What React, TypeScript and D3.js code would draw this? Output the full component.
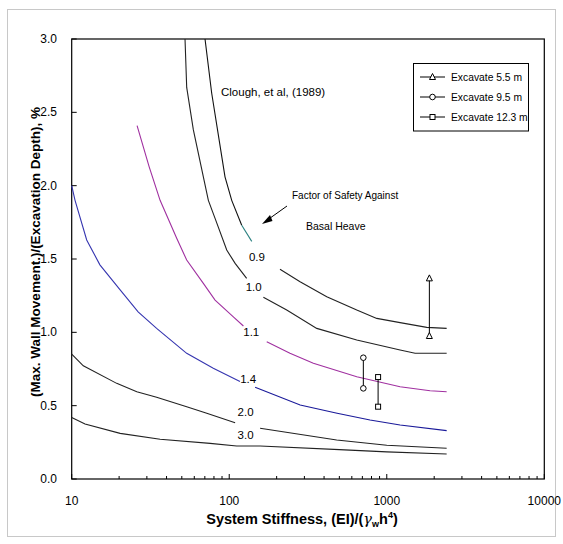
import React from "react";
import * as d3 from "d3";

// ---- data ----
const xTickLabels = [10, 100, 1000, 10000];
const yTickValues = [0, 0.5, 1.0, 1.5, 2.0, 2.5, 3.0];

const c09a: [number, number][] = [[70.2, 3.0], [77.4, 2.63], [94, 2.06], [103.7, 1.9], [120, 1.73]];
const c09tail: [number, number][] = [[120, 1.73], [139, 1.62]];
const c09b: [number, number][] = [[210, 1.43], [281.6, 1.345], [416, 1.243], [645, 1.152], [864, 1.095], [1215, 1.066], [1795, 1.034], [2400, 1.027]];
const c10a: [number, number][] = [[52.4, 3.0], [53.7, 2.67], [59.2, 2.38], [68.5, 2.06], [73.7, 1.9], [81.3, 1.777], [96.4, 1.561], [109, 1.47], [129, 1.368]];
const c10b: [number, number][] = [[164.7, 1.239], [231.7, 1.152], [359.4, 1.027], [645, 0.948], [1215, 0.879], [1513, 0.857], [2400, 0.857]];
const c11a: [number, number][] = [[26, 2.41], [31, 2.13], [36.4, 1.9], [46.4, 1.641], [53.7, 1.493], [68.5, 1.334], [81.3, 1.22], [106.2, 1.106], [123, 1.043]];
const c11b: [number, number][] = [[173, 0.936], [243, 0.857], [342, 0.789], [645, 0.697], [1215, 0.629], [1884, 0.602], [2400, 0.595]];
const c14a: [number, number][] = [[10, 2.0], [10.5, 1.9], [12.45, 1.63], [15.1, 1.46], [20.3, 1.29], [26.4, 1.14], [34.6, 1.027], [53.7, 0.857], [79.2, 0.755], [117, 0.664]];
const c14b: [number, number][] = [[146, 0.625], [282, 0.504], [484, 0.448], [783, 0.402], [1215, 0.368], [2400, 0.33]];
const c20a: [number, number][] = [[10, 0.852], [11.85, 0.772], [19.3, 0.652], [25.9, 0.595], [34.6, 0.557], [53.7, 0.493], [72, 0.448], [109, 0.384]];
const c20b: [number, number][] = [[157, 0.346], [481, 0.266], [1000, 0.23], [2400, 0.21]];
const c30: [number, number][] = [[10, 0.42], [12.15, 0.375], [20.3, 0.311], [36.4, 0.271], [75.6, 0.243], [111.5, 0.225], [157, 0.225], [500, 0.2], [1000, 0.185], [2400, 0.17]];

// curve labels: [text, x, y]
const curveLabels: [string, number, number][] = [
  ["0.9", 150, 1.515],
  ["1.0", 143, 1.31],
  ["1.1", 138, 1.0],
  ["1.4", 132, 0.685],
  ["2.0", 127, 0.46],
  ["3.0", 127, 0.3],
];

// excavation ranges
const excavations = [
  { name: "Excavate 5.5 m", symbol: "triangle", x: 1864, lo: 0.975, hi: 1.368 },
  { name: "Excavate 9.5 m", symbol: "circle", x: 710, lo: 0.618, hi: 0.827 },
  { name: "Excavate 12.3 m", symbol: "square", x: 881, lo: 0.493, hi: 0.695 },
];

const W = 563;
const H = 544;
const L = 71.7, R = 544.3, T = 39, B = 479;

function Marker({ kind, x, y }: { kind: string; x: number; y: number }) {
  if (kind === "triangle") {
    return <path d={`M${x},${y - 3.5}L${x + 3},${y + 2.5}L${x - 3},${y + 2.5}Z`} fill="white" stroke="#000" strokeWidth={1} />;
  }
  if (kind === "circle") {
    return <circle cx={x} cy={y} r={2.8} fill="white" stroke="#000" strokeWidth={1} />;
  }
  return <rect x={x - 2.5} y={y - 2.5} width={5} height={5} fill="white" stroke="#000" strokeWidth={1} />;
}

export default function App() {
  const x = d3.scaleLog().domain([10, 10000]).range([L, R]);
  const y = d3.scaleLinear().domain([0, 3]).range([B, T]);
  const line = d3.line<[number, number]>().x((d) => x(d[0])).y((d) => y(d[1]));
  const minor = x.ticks();
  const font = "Liberation Sans, Arial, sans-serif";

  const curves: { d: [number, number][]; c: string }[] = [
    { d: c09a, c: "#111" },
    { d: c09tail, c: "#2a8080" },
    { d: c09b, c: "#222" },
    { d: c10a, c: "#222" },
    { d: c10b, c: "#222" },
    { d: c11a, c: "#a030a0" },
    { d: c11b, c: "#a030a0" },
    { d: c14a, c: "#3535b0" },
    { d: c14b, c: "#1a1a9a" },
    { d: c20a, c: "#222" },
    { d: c20b, c: "#222" },
    { d: c30, c: "#222" },
  ];

  return (
    <svg width={W} height={H} style={{ position: "absolute", left: 0, top: 0, background: "white" }} fontFamily={font}>
      <rect x={7.5} y={9.5} width={548} height={527} fill="white" stroke="#c8c8c8" strokeWidth={1} />
      {/* plot frame */}
      <rect x={L} y={T} width={R - L} height={B - T} fill="none" stroke="#000" strokeWidth={1.2} />
      {/* x ticks */}
      {minor.map((v, i) => {
        const major = Math.abs(Math.log10(v) - Math.round(Math.log10(v))) < 1e-9;
        return <line key={"xt" + i} x1={x(v)} x2={x(v)} y1={B} y2={B - (major ? 5 : 3)} stroke="#000" strokeWidth={1} />;
      })}
      {xTickLabels.map((v) => (
        <text key={"xl" + v} x={x(v)} y={505} textAnchor="middle" fontSize={12} fill="#000">{v}</text>
      ))}
      {/* y ticks */}
      {yTickValues.map((v) => (
        <g key={"yt" + v}>
          <line x1={L} x2={L + 5} y1={y(v)} y2={y(v)} stroke="#000" strokeWidth={1} />
          <text x={57} y={y(v) + 4} textAnchor="end" fontSize={12} fill="#000">{v.toFixed(1)}</text>
        </g>
      ))}
      {/* axis titles */}
      <text transform={`translate(40,252) rotate(-90)`} textAnchor="middle" fontSize={13.5} fontWeight="bold" fill="#000">
        (Max.  Wall Movement.)/(Excavation Depth), %
      </text>
      <text x={302} y={524} textAnchor="middle" fontSize={14.5} fontWeight="bold" fill="#000">
        System Stiffness, (EI)/(
        <tspan fontFamily="DejaVu Serif, serif" fontWeight="normal" fontStyle="italic">γ</tspan>
        <tspan fontSize={9} dy={3}>w</tspan>
        <tspan dy={-3}>h</tspan>
        <tspan fontSize={9} dy={-6}>4</tspan>
        <tspan dy={6}>)</tspan>
      </text>
      {/* curves */}
      {curves.map((c, i) => (
        <path key={"c" + i} d={line(c.d) || ""} fill="none" stroke={c.c} strokeWidth={1.1} />
      ))}
      {curveLabels.map(([t, vx, vy]) => (
        <text key={"cl" + t} x={x(vx)} y={y(vy) + 4} textAnchor="middle" fontSize={11.5} fill="#000">{t}</text>
      ))}
      {/* excavation ranges */}
      {excavations.map((e) => (
        <g key={e.name}>
          <line x1={x(e.x)} x2={x(e.x)} y1={y(e.lo)} y2={y(e.hi)} stroke="#000" strokeWidth={1} />
          <Marker kind={e.symbol} x={x(e.x)} y={y(e.lo)} />
          <Marker kind={e.symbol} x={x(e.x)} y={y(e.hi)} />
        </g>
      ))}
      {/* annotations */}
      <text x={221} y={95.5} fontSize={11.5} fill="#000">Clough, et al, (1989)</text>
      <text x={292} y={199} fontSize={10} fill="#000">Factor of Safety Against</text>
      <text x={306} y={230} fontSize={10.5} fill="#000">Basal Heave</text>
      <line x1={287} x2={266} y1={206} y2={221} stroke="#000" strokeWidth={1} />
      <path d="M262,224 L270,215 L272.5,221 Z" fill="#000" />
      {/* legend */}
      <rect x={413.5} y={63.5} width={115} height={67.5} fill="white" stroke="#000" strokeWidth={1} />
      {excavations.map((e, i) => {
        const ly = 77 + i * 20;
        return (
          <g key={"lg" + i}>
            <line x1={420} x2={445} y1={ly} y2={ly} stroke="#000" strokeWidth={1} />
            <Marker kind={e.symbol} x={432.5} y={ly} />
            <text x={451} y={ly + 3.5} fontSize={10.3} fill="#000">{e.name}</text>
          </g>
        );
      })}
    </svg>
  );
}
